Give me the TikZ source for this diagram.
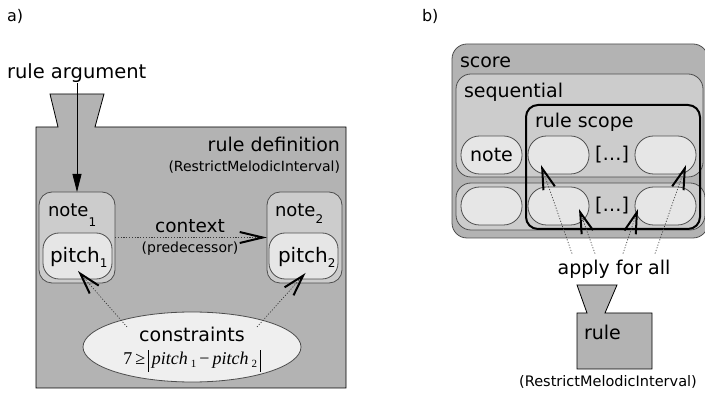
\RequirePackage{fix-cm}
\documentclass[tikz,border=0pt]{standalone}
\usepackage{fontspec}
\setmainfont{DejaVu Sans}
\newfontfamily\formulafont{Liberation Serif}
\usetikzlibrary{arrows.meta,shapes.geometric,calc}

\definecolor{panelgray}{HTML}{B3B3B3}
\definecolor{boxgray}{HTML}{CCCCCC}
\definecolor{ovalgray}{HTML}{E6E6E6}
\definecolor{ellgray}{HTML}{EFEFEF}
\definecolor{edgegray}{HTML}{4D4D4D}
\definecolor{dotgray}{HTML}{3A3A3A}

\newcommand{\fs}[1]{\fontsize{#1}{#1}\selectfont}
\newcommand{\lowsub}[2]{\raisebox{-#1pt}{\fs{12}#2}}
\newcommand{\absbar}{\rule[-7pt]{0.7pt}{22pt}}
\newcommand{\fsub}[1]{\,\raisebox{-3pt}{\fs{11}#1}}

\begin{document}
\begin{tikzpicture}[x=1pt,y=-1pt,
  txt/.style={inner sep=0pt,outer sep=0pt},
  rbox/.style={draw=edgegray,line width=0.8pt,inner sep=0pt,outer sep=0pt,
    anchor=north west,rounded corners=#1},
  notebox/.style={rbox=13pt,fill=boxgray,minimum width=76pt,minimum height=91pt},
  pitchbox/.style={rbox=16pt,fill=ovalgray,minimum width=69pt,minimum height=46pt},
  oval/.style={rbox=18.5pt,fill=ovalgray,minimum width=61pt,minimum height=38pt},
  dotline/.style={dotgray,line width=0.7pt,dash pattern=on 1.1pt off 1.7pt},
  barb/.style={-{Straight Barb[length=21pt,width=12pt,line width=2pt,color=black]}},
  shapeedge/.style={draw=black,line width=0.8pt,fill=panelgray},
]
\useasboundingbox (0,0) rectangle (705,395);

% ---------------- panel a ----------------
\node[txt,anchor=base west] (la) at (7,22) {\fs{16}a)};
\node[txt,anchor=base west] (argtext) at (7,79) {\fs{19.5}rule argument};

% rule body with its argument funnel
\path[shapeedge] (36,127) -- (58,127) -- (50,94) -- (104,94) -- (95,127)
  -- (346,127) -- (346,388) -- (36,388) -- cycle;

\node[txt,anchor=base east] (ruledef) at (340,152) {\fs{19}rule definition};
\node[txt,anchor=base east] (ruledefname) at (340,172) {\fs{14}(RestrictMelodicInterval)};

\node[notebox] (note1) at (39,192) {};
\node[notebox,minimum width=75pt] (note2) at (267,192) {};
\node[txt,anchor=base west] (note1lab) at (48,217) {\fs{18}note\lowsub{10}{1}};
\node[txt,anchor=base west] (note2lab) at (275,217) {\fs{18}note\lowsub{7}{2}};

\node[pitchbox] (pitch1) at (43,233) {};
\node[pitchbox] (pitch2) at (269,233) {};
\node[txt,anchor=base west] (pitch1lab) at (50,263) {\fs{20}pitch\lowsub{5}{1}};
\node[txt,anchor=base west] (pitch2lab) at (278,263) {\fs{20}pitch\lowsub{5}{2}};

\node[txt,anchor=base] (context) at (190,233) {\fs{18.5}context};
\node[txt,anchor=base] (pred) at (190,253) {\fs{14}(predecessor)};

\node[ellipse,draw=edgegray,line width=0.8pt,fill=ellgray,inner sep=0pt,
  minimum width=218pt,minimum height=70pt] (cons) at (192,347) {};
\node[txt,anchor=base] (constext) at (192,342) {\fs{19}constraints};
\node[txt,anchor=base] (formula) at (192,365)
  {\formulafont\fs{18}7\,≥\,\absbar\,\textit{pitch}\fsub{1}\,−\,\textit{pitch}\fsub{2}\,\absbar};

% connectors of panel a
\draw[line width=0.8pt,-{Triangle[length=18pt,width=9pt]}]
  (argtext.south -| note1.north) -- (note1.north);
\draw[dotline,-{Straight Barb[length=23pt,width=11pt,line width=2pt,color=black]}]
  (note1.east) -- (note2.west);
\draw[dotline,barb] ($(cons.center)+(-65,-20)$) -- ($(pitch1.south)+(0.5,-8)$);
\draw[dotline,barb] ($(cons.center)+(65,-20)$) -- ($(pitch2.south)+(2,-6)$);

% ---------------- panel b ----------------
\node[txt,anchor=base west] (lb) at (422,22) {\fs{16}b)};

\node[rbox=15pt,fill=panelgray,minimum width=256pt,minimum height=194pt] (score) at (452,44) {};
\node[txt,anchor=base west] (scorelab) at (460,68) {\fs{19}score};

\node[rbox=15pt,fill=boxgray,minimum width=247pt,minimum height=103pt] (seq1) at (456,74) {};
\node[rbox=15pt,fill=boxgray,minimum width=249pt,minimum height=47pt] (seq2) at (456,183) {};
\node[txt,anchor=base west] (seqlab) at (464,98) {\fs{19}sequential};

\node[oval] (o11) at (461,136) {};
\node[oval] (o12) at (528,136) {};
\node[oval] (o13) at (635,136) {};
\node[oval] (o21) at (461,187) {};
\node[oval] (o22) at (528,187) {};
\node[oval] (o23) at (635,187) {};
\node[txt] (notelab) at (o11.center) {\fs{19}note};
\node[txt] (dots1) at (612,155) {\fs{19}[\ldots]};
\node[txt] (dots2) at (612,206) {\fs{19}[\ldots]};

\node[draw=black,line width=2pt,rounded corners=12pt,inner sep=0pt,outer sep=0pt,
  anchor=north west,minimum width=174pt,minimum height=124pt] (scope) at (526,105) {};
\node[txt,anchor=base west] (scopelab) at (535,128) {\fs{19}rule scope};

\node[txt,anchor=base] (apply) at (614,275) {\fs{19}apply for all};

% connectors of panel b
\draw[dotline,barb] ($(apply.north)+(-42,-7)$) -- ($(o12.south west)+(13,-9)$);
\draw[dotline,barb] ($(apply.north)+(-19,-7)$) -- ($(o22.south east)+(-10,-16)$);
\draw[dotline,barb] ($(apply.north)+(9,-7)$) -- ($(o23.south west)+(3,-16)$);
\draw[dotline,barb] ($(apply.north)+(41,-7)$) -- ($(o13.south east)+(-10,-9)$);

% rule with its argument funnel
\path[shapeedge] (577,313) -- (587,313) -- (577,285) -- (617,285) -- (605,313)
  -- (652,313) -- (652,369) -- (577,369) -- cycle;
\node[txt,anchor=base west] (rulelab) at (584,340) {\fs{19}rule};
\node[txt,anchor=base] (rulename) at (608,387) {\fs{14.5}(RestrictMelodicInterval)};
\end{tikzpicture}
\end{document}
